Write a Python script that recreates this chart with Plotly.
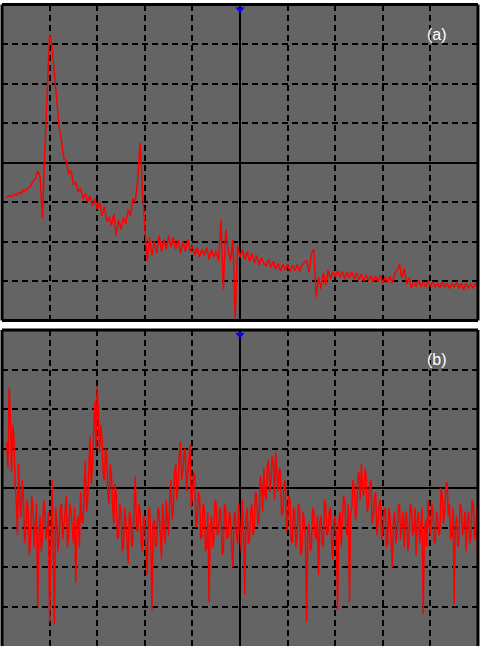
import plotly.graph_objects as go

# ---------------------------------------------------------------------------
# Trace samples, in screen divisions
# ---------------------------------------------------------------------------

X_START = -4.9
STEP_A = 0.05    # div per sample, trace (a)
STEP_B = 0.025   # div per sample, trace (b)

trace_a = [
    -0.89, -0.84, -0.87, -0.80, -0.83, -0.76, -0.79, -0.70, -0.72, -0.64,
    -0.60, -0.48, -0.42, -0.22, -0.35, -1.42, 0.30, 1.60, 3.24, 2.95,
    2.30, 1.75, 0.90, 0.55, 0.10, 0.05, -0.30, -0.20, -0.55, -0.50,
    -0.75, -0.65, -0.92, -0.78, -1.00, -0.85, -1.10, -0.92, -1.18, -1.00,
    -1.35, -1.12, -1.50, -1.38, -1.60, -1.30, -1.85, -1.45, -1.70, -1.40,
    -1.55, -1.20, -1.35, -0.90, -1.00, -0.45, 0.50, -0.70, -1.60, -2.50,
    -1.90, -2.35, -2.00, -2.30, -1.85, -2.25, -1.95, -2.20, -1.85, -2.15,
    -1.90, -2.20, -1.95, -2.30, -2.00, -2.25, -1.95, -2.25, -2.10, -2.35,
    -2.15, -2.40, -2.20, -2.35, -2.15, -2.45, -2.20, -2.40, -2.25, -2.50,
    -1.45, -3.20, -1.70, -2.20, -2.50, -1.95, -3.95, -2.10, -2.40, -2.20,
    -2.45, -2.25, -2.50, -2.30, -2.55, -2.35, -2.60, -2.40, -2.55, -2.62,
    -2.45, -2.65, -2.50, -2.70, -2.55, -2.75, -2.58, -2.72, -2.58, -2.76,
    -2.60, -2.74, -2.58, -2.75, -2.60, -2.55, -2.48, -2.78, -2.30, -2.20,
    -3.40, -2.90, -3.20, -2.80, -3.10, -2.72, -2.95, -2.76, -2.90, -2.74,
    -2.92, -2.76, -2.95, -2.78, -2.92, -2.76, -2.95, -2.80, -2.97, -2.82,
    -3.00, -2.84, -3.00, -2.86, -3.03, -2.88, -3.02, -2.86, -3.05, -2.90,
    -3.04, -2.88, -3.05, -2.82, -2.72, -2.58, -2.92, -2.68, -3.08, -2.92,
    -3.18, -3.02, -3.14, -2.98, -3.14, -3.02, -3.16, -3.00, -3.14, -3.02,
    -3.16, -3.04, -3.18, -3.02, -3.16, -3.05, -3.19, -3.06, -3.16, -3.02,
    -3.19, -3.06, -3.22, -3.05, -3.18, -3.07, -3.19, -3.05, -3.14,
]

trace_b = [
    1.15, 0.50, 2.54, 1.80, 0.40, 1.60, 1.30, 0.10, -0.30, -1.20,
    0.60, -0.40, -0.75, 0.20, -0.20, -1.40, -1.10, -0.30, -0.60, -1.70,
    -1.30, -0.20, -0.50, -1.50, -0.95, -0.40, -3.00, -1.20, -0.70, -1.60,
    -1.25, -0.30, -0.55, -1.30, -1.10, -0.60, -3.40, -1.00, 0.20, -1.40,
    -3.45, -0.50, -0.80, -1.60, -1.30, -0.50, -0.40, -1.30, -1.00, -0.60,
    -0.20, -1.50, -1.20, -0.40, -0.60, -1.10, -1.40, -0.50, -2.40, -0.90,
    -0.70, -1.50, -0.10, -0.80, -0.90, -0.20, 0.70, -0.60, -0.30, 0.50,
    1.30, 0.10, 0.60, 1.50, 2.20, 1.00, 2.57, 1.90, 0.90, 1.60,
    1.30, 0.40, 0.20, 1.00, 0.80, -0.20, -0.40, 0.60, 0.30, -0.50,
    -0.90, 0.10, -0.20, -1.30, -1.20, -0.40, -0.60, -1.60, -1.50, -0.50,
    -0.80, -1.30, -1.90, -0.60, -0.70, -1.50, -1.30, -0.50, 0.30, -1.00,
    -1.10, -0.40, -0.60, -1.40, -1.60, -0.70, -0.90, -1.50, -2.20, -0.60,
    -0.50, -1.30, -3.10, -0.90, -0.80, -1.50, -1.40, -0.50, -0.60, -1.20,
    -1.80, -0.40, -0.90, -1.40, -0.30, -0.90, -1.20, -0.20, 0.20, -0.80,
    -0.50, 0.40, 0.60, -0.30, 0.10, 0.80, 1.17, 0.20, 0.40, 0.90,
    1.00, -0.10, 0.30, 0.70, 1.10, -0.50, -0.20, 0.40, 0.30, -1.00,
    -0.80, -0.10, -0.20, -1.30, -1.20, -0.40, -0.50, -1.60, -1.50, -0.60,
    -2.90, -1.00, -0.70, -1.50, -1.30, -0.30, -0.40, -1.20, -1.10, -0.50,
    -0.60, -1.70, -1.60, -0.40, -0.50, -1.30, -1.20, -0.60, -0.80, -1.50,
    -2.00, -0.70, -0.60, -1.20, -1.40, -0.40, -0.90, -1.60, -0.30, -1.10,
    -2.70, -0.80, -0.50, -1.40, -1.30, -0.60, -0.40, -1.20, -1.00, -0.10,
    -0.20, -0.90, -0.90, 0.30, 0.10, -0.60, 0.50, -0.20, -0.30, 0.60,
    0.70, -0.10, 0.20, 0.80, 0.60, -0.30, 0.90, 0.20, -0.10, 0.50,
    0.40, -0.70, -0.60, 0.10, 0.20, -1.10, -0.90, -0.20, -0.30, -1.30,
    -1.40, -0.50, -0.60, -1.50, -1.20, -0.40, -0.50, -1.70, -1.60, -0.60,
    -0.80, -1.30, -3.40, -1.00, -0.90, -1.60, -1.50, -0.50, -0.60, -1.20,
    -1.30, -0.70, -2.20, -0.90, -0.70, -1.40, -1.50, -0.30, -0.40, -1.20,
    -1.10, -0.60, -0.50, -1.40, -1.80, -0.80, -0.70, -1.30, -3.10, -0.80,
    -0.60, -1.50, -1.00, -0.20, -0.30, -1.10, -1.20, -0.40, -2.90, -0.60,
    -0.50, 0.20, 0.00, -0.80, -0.60, 0.30, 0.40, -0.30, 0.60, 0.00,
    -0.20, 0.50, 0.30, -0.60, -0.40, 0.10, 0.20, -0.90, -0.70, -0.20,
    -0.10, -1.20, -0.90, -0.40, -0.30, -1.30, -1.10, -0.60, -0.50, -1.50,
    -1.40, -0.50, -0.70, -1.20, -2.00, -0.80, -0.60, -1.40, -1.20, -0.50,
    -0.40, -1.30, -1.00, -0.60, -1.50, -0.70, -0.60, -1.60, -1.30, -0.40,
    -0.50, -1.20, -1.10, -0.50, -1.70, -0.80, -0.60, -1.40, -1.00, -0.50,
    -3.20, -1.10, -0.80, -1.50, -0.30, -1.00, -1.20, -0.40, -0.50, -1.30,
    -1.40, -0.60, -0.70, -1.20, -1.10, 0.00, -0.20, -0.90, -0.60, 0.10,
    0.15, -0.70, -0.40, -1.30, -1.20, -0.50, -2.95, -0.90, -0.70, -1.50,
    -1.30, -0.40, -0.50, -1.20, -1.00, -0.60, -1.60, -0.80, -0.60, -1.40,
    -1.20, -0.30, -0.40, -1.30, -1.10, -0.50, -2.30,
]

PANEL_LABELS = ["(a)", "(b)"]

SCREEN = "rgb(100,100,100)"
W, H = 482, 649

# pixel boxes of the two screens
X_PX = (2, 478)
PANELS_PX = [(4.5, 320.5), (330, 646)]


def _dom_y(top, bottom):
    return [1 - bottom / H, 1 - top / H]


fig = go.Figure()

for k, (vals, step, label) in enumerate(zip([trace_a, trace_b], [STEP_A, STEP_B], PANEL_LABELS)):
    xs = [X_START + step * i for i in range(len(vals))]
    xa = "x" if k == 0 else "x2"
    ya = "y" if k == 0 else "y2"
    fig.add_trace(go.Scatter(
        x=xs, y=vals, xaxis=xa, yaxis=ya,
        mode="lines",
        line=dict(color="#FF0000", width=1.5),
        hoverinfo="skip", showlegend=False,
    ))
    # trigger marker at top centre
    fig.add_trace(go.Scatter(
        x=[0], y=[3.88], xaxis=xa, yaxis=ya,
        mode="markers",
        marker=dict(symbol="triangle-down", size=8, color="#0000FF",
                    line=dict(width=0)),
        cliponaxis=False, hoverinfo="skip", showlegend=False,
    ))
    fig.add_annotation(
        x=4.14, y=3.25, xref=xa, yref=ya, text=label, showarrow=False,
        font=dict(family="Liberation Sans, Arial", size=16, color="white"),
    )

axis_common = dict(
    showgrid=True, gridcolor="black", gridwidth=1.6, griddash="6px,4px",
    dtick=1, zeroline=True, zerolinecolor="black", zerolinewidth=2,
    showticklabels=False, ticks="", showline=False, fixedrange=True,
)

# small sub-division ticks along the centre cross-hair
center_ticks = dict(
    showgrid=False, zeroline=False, showline=False, showticklabels=False,
    ticks="outside", ticklen=3, tickwidth=1, tickcolor="black",
    tick0=0, dtick=0.2, fixedrange=True, anchor="free",
)

xdom = [X_PX[0] / W, X_PX[1] / W]
ydom_a = _dom_y(*PANELS_PX[0])
ydom_b = _dom_y(*PANELS_PX[1])
fig.update_layout(
    width=W, height=H,
    margin=dict(l=0, r=0, t=0, b=0),
    paper_bgcolor="white",
    plot_bgcolor=SCREEN,
    xaxis=dict(axis_common, range=[-5, 5], domain=xdom, anchor="y"),
    yaxis=dict(axis_common, range=[-4, 4], domain=ydom_a, anchor="x"),
    xaxis2=dict(axis_common, range=[-5, 5], domain=xdom, anchor="y2"),
    yaxis2=dict(axis_common, range=[-4, 4], domain=ydom_b, anchor="x2"),
    xaxis3=dict(center_ticks, range=[-5, 5], overlaying="x",
                position=sum(ydom_a) / 2),
    yaxis3=dict(center_ticks, range=[-4, 4], overlaying="y",
                position=sum(xdom) / 2),
    xaxis4=dict(center_ticks, range=[-5, 5], overlaying="x2",
                position=sum(ydom_b) / 2),
    yaxis4=dict(center_ticks, range=[-4, 4], overlaying="y2",
                position=sum(xdom) / 2),
)

# black frame around each screen
for top, bottom in PANELS_PX:
    y0, y1 = 1 - bottom / H, 1 - top / H
    x0, x1 = xdom
    edges = [(x0, y1, x1, y1), (x0, y0, x0, y1), (x1, y0, x1, y1)]
    if top < 100:
        edges.append((x0, y0, x1, y0))
    for ax0, ay0, ax1, ay1 in edges:
        fig.add_shape(type="line", xref="paper", yref="paper",
                      x0=ax0, y0=ay0, x1=ax1, y1=ay1,
                      line=dict(color="black", width=3))

# page body has a default margin; drop it so the figure sits at (0, 0)
fig.write_html(
    "out.html",
    config={"displayModeBar": False},
    post_script="document.body.style.margin='0';document.body.style.overflow='hidden';",
)
